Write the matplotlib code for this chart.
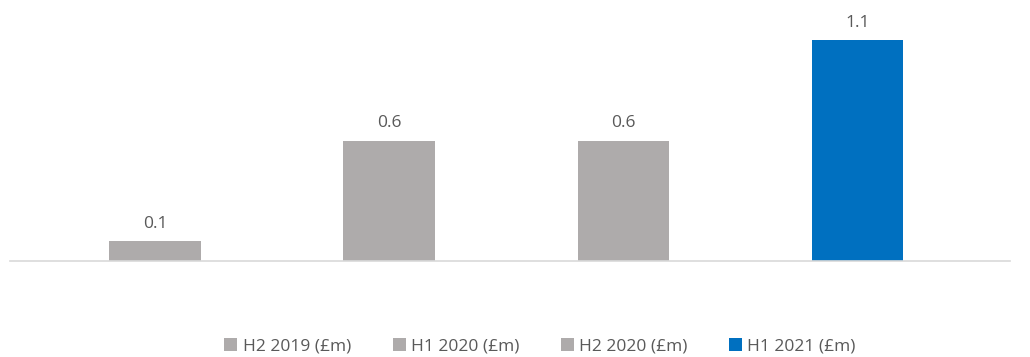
import matplotlib.pyplot as plt

categories = ["H2 2019 (£m)", "H1 2020 (£m)", "H2 2020 (£m)", "H1 2021 (£m)"]
values = [0.1, 0.6, 0.6, 1.1]
colors = ["#aeabab", "#aeabab", "#aeabab", "#0070c0"]

plt.rcParams["font.family"] = ["Open Sans", "DejaVu Sans"]

fig = plt.figure(figsize=(10.30, 3.57), dpi=100)
ax = fig.add_axes([10 / 1030, (357 - 261) / 357, 1000 / 1030, 261 / 357])

for i, (cat, val, col) in enumerate(zip(categories, values, colors)):
    ax.bar(i, val, width=0.39, color=col, label=cat)
    ax.text(i, val + 0.085, f"{val:.1f}", ha="center", va="center",
            fontsize=12.5, color="#595959")

ax.set_xlim(-0.619, 3.651)
ax.set_ylim(0, 1.3)
for side in ("top", "right", "left"):
    ax.spines[side].set_visible(False)
ax.spines["bottom"].set_color("#d9d9d9")
ax.spines["bottom"].set_linewidth(1.2)
ax.set_xticks([])
ax.set_yticks([])

fig.legend(loc="center", bbox_to_anchor=(540 / 1030, 1 - 346 / 357), ncol=4,
           frameon=False, fontsize=12.5, handlelength=0.75, handleheight=0.75,
           handletextpad=0.3, columnspacing=2.4, labelcolor="#595959")

fig.savefig("out.png", dpi=100)
